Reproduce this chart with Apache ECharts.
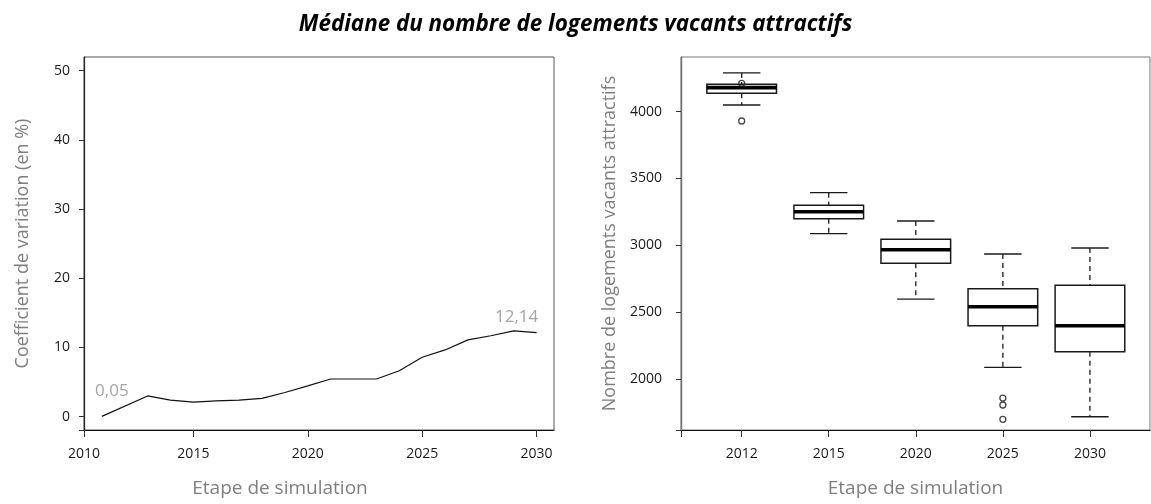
<!DOCTYPE html>
<html>
<head>
<meta charset="utf-8">
<script src="https://cdn.jsdelivr.net/npm/echarts@6/dist/echarts.min.js"></script>
<style>
  html, body { margin: 0; padding: 0; background: #ffffff; }
  #chart { width: 1151px; height: 504px; }
</style>
</head>
<body>
<div id="chart"></div>
<script>
// Coefficient of variation of the median, per simulated year
const cvYears = [2011, 2013, 2014, 2015, 2016, 2017, 2018, 2019, 2020, 2021, 2022, 2023, 2024, 2025, 2026, 2027, 2028, 2029, 2030];
const cvValues = [0.05, 3.0, 2.4, 2.1, 2.3, 2.4, 2.65, 3.5, 4.45, 5.45, 5.45, 5.45, 6.65, 8.6, 9.65, 11.1, 11.7, 12.4, 12.14];
const cvYTicks = [0, 10, 20, 30, 40, 50];
const cvXTicks = [2010, 2015, 2020, 2025, 2030];

// Distribution of attractive vacant dwellings per simulation step
const boxSteps = ['2012', '2015', '2020', '2025', '2030'];
const boxMin = [4050, 3087, 2598, 2087, 1717];
const boxQ1 = [4138, 3199, 2865, 2398, 2204];
const boxMedian = [4180, 3251, 2967, 2540, 2398];
const boxQ3 = [4205, 3299, 3045, 2675, 2701];
const boxMax = [4290, 3394, 3182, 2935, 2980];
const outlierStep = [0, 0, 3, 3, 3];
const outlierValue = [4212, 3930, 1857, 1805, 1698];
const boxYTicks = [2000, 2500, 3000, 3500, 4000];

const FONT = '"Open Sans", "DejaVu Sans", sans-serif';
const fmtFr = v => v.toFixed(2).replace('.', ',');

// left panel extents
const cvXMin = 2010.22, cvXMax = 2030.76, cvYMin = -1.92, cvYMax = 51.98;
// right panel extents
const bxXMin = 0.303, bxXMax = 5.69, bxYMin = 1618, bxYMax = 4409;

const lastIdx = cvValues.length - 1;
const cvData = cvYears.map((y, i) => {
  const item = { value: [y, cvValues[i]] };
  if (i === 0 || i === lastIdx) {
    item.label = {
      show: true,
      position: 'top',
      distance: 4,
      offset: i === 0 ? [10, -13] : [-20, -3],
      formatter: p => fmtFr(p.value[1]),
      color: '#a6a6a6',
      fontSize: 17,
      fontFamily: FONT
    };
  }
  return item;
});

const boxData = boxSteps.map((s, i) => [i + 1, boxMin[i], boxQ1[i], boxMedian[i], boxQ3[i], boxMax[i]]);
const outlierData = outlierStep.map((s, i) => [s + 1, outlierValue[i]]);

const tickLabel = { color: '#1a1a1a', fontSize: 14, fontFamily: FONT };
const nameStyleX = { color: '#7f7f7f', fontSize: 19, fontFamily: FONT };
const nameStyleY = { color: '#7f7f7f', fontSize: 18, fontFamily: FONT };

function renderBox(params, api) {
  const x = api.value(0);
  const pMin = api.coord([x, api.value(1)]);
  const pQ1 = api.coord([x, api.value(2)]);
  const pMed = api.coord([x, api.value(3)]);
  const pQ3 = api.coord([x, api.value(4)]);
  const pMax = api.coord([x, api.value(5)]);
  const bw = api.size([0.8, 0])[0];
  const cw = api.size([0.43, 0])[0];
  const cx = pMed[0];
  const stroke = '#1a1a1a';
  const dashed = { stroke: stroke, lineWidth: 1.3, lineDash: [5, 4] };
  const solid = { stroke: stroke, lineWidth: 1.3 };
  return {
    type: 'group',
    children: [
      { type: 'line', shape: { x1: cx, y1: pMax[1], x2: cx, y2: pQ3[1] }, style: dashed },
      { type: 'line', shape: { x1: cx, y1: pQ1[1], x2: cx, y2: pMin[1] }, style: dashed },
      { type: 'line', shape: { x1: cx - cw / 2, y1: pMax[1], x2: cx + cw / 2, y2: pMax[1] }, style: solid },
      { type: 'line', shape: { x1: cx - cw / 2, y1: pMin[1], x2: cx + cw / 2, y2: pMin[1] }, style: solid },
      { type: 'rect', shape: { x: cx - bw / 2, y: pQ3[1], width: bw, height: pQ1[1] - pQ3[1] },
        style: { fill: '#ffffff', stroke: stroke, lineWidth: 1.5 } },
      { type: 'line', shape: { x1: cx - bw / 2, y1: pMed[1], x2: cx + bw / 2, y2: pMed[1] },
        style: { stroke: '#000000', lineWidth: 3.6 } }
    ]
  };
}

const chart = echarts.init(document.getElementById('chart'), null, { renderer: 'canvas' });
chart.setOption({
  animation: false,
  backgroundColor: '#ffffff',
  title: {
    text: 'Médiane du nombre de logements vacants attractifs',
    left: 'center',
    top: 9,
    textStyle: { fontFamily: FONT, fontSize: 22.4, fontWeight: 'bold', fontStyle: 'italic', color: '#000000' }
  },
  grid: [
    { left: 84, right: 597, top: 57, bottom: 74, show: true, borderColor: '#555555', borderWidth: 1 },
    { left: 681, right: 1, top: 57, bottom: 74, show: true, borderColor: '#7a7a7a', borderWidth: 1 }
  ],
  xAxis: [
    {
      gridIndex: 0, type: 'value', min: cvXMin, max: cvXMax,
      splitLine: { show: false },
      axisLine: { show: true, onZero: false, lineStyle: { color: '#111111', width: 1.2 } },
      axisTick: { show: true, length: 7, customValues: [cvXMin].concat(cvXTicks.slice(1)), lineStyle: { color: '#333333' } },
      axisLabel: { customValues: [cvXMin].concat(cvXTicks.slice(1)), formatter: v => String(Math.round(v)), margin: 17, ...tickLabel },
      name: 'Etape de simulation', nameLocation: 'middle', nameGap: 49,
      nameTextStyle: { ...nameStyleX, padding: [0, 78, 0, 0] }
    },
    {
      gridIndex: 1, type: 'value', min: bxXMin, max: bxXMax,
      splitLine: { show: false },
      axisLine: { show: true, onZero: false, lineStyle: { color: '#111111', width: 1.2 } },
      axisTick: { show: true, length: 7, customValues: [bxXMin, 1, 2, 3, 4, 5], lineStyle: { color: '#333333' } },
      axisLabel: { customValues: [1, 2, 3, 4, 5], formatter: v => boxSteps[Math.round(v) - 1], margin: 17, ...tickLabel },
      name: 'Etape de simulation', nameLocation: 'middle', nameGap: 49,
      nameTextStyle: nameStyleX
    }
  ],
  yAxis: [
    {
      gridIndex: 0, type: 'value', min: cvYMin, max: cvYMax,
      splitLine: { show: false },
      axisLine: { show: true, onZero: false, lineStyle: { color: '#222222', width: 1.2 } },
      axisTick: { show: true, length: 5, customValues: [cvYMin].concat(cvYTicks), lineStyle: { color: '#333333' } },
      axisLabel: { customValues: cvYTicks, formatter: v => String(v), margin: 14, ...tickLabel },
      name: 'Coefficient de variation (en %)', nameLocation: 'middle', nameGap: 52,
      nameTextStyle: nameStyleY
    },
    {
      gridIndex: 1, type: 'value', min: bxYMin, max: bxYMax,
      splitLine: { show: false },
      axisLine: { show: true, onZero: false, lineStyle: { color: '#6e6e6e', width: 1.4 } },
      axisTick: { show: true, length: 5, customValues: [bxYMin].concat(boxYTicks), lineStyle: { color: '#333333' } },
      axisLabel: { customValues: boxYTicks, formatter: v => String(v), margin: 19, ...tickLabel },
      name: 'Nombre de logements vacants attractifs', nameLocation: 'middle', nameGap: 62,
      nameTextStyle: nameStyleY
    }
  ],
  series: [
    {
      type: 'line', xAxisIndex: 0, yAxisIndex: 0,
      data: cvData,
      showSymbol: true, symbol: 'circle', symbolSize: 0,
      lineStyle: { color: '#111111', width: 1.2 },
      itemStyle: { color: '#111111' },
      emphasis: { disabled: true }
    },
    {
      type: 'custom', xAxisIndex: 1, yAxisIndex: 1,
      renderItem: renderBox,
      encode: { x: 0, y: [1, 2, 3, 4, 5] },
      data: boxData,
      z: 3
    },
    {
      type: 'scatter', xAxisIndex: 1, yAxisIndex: 1,
      data: outlierData,
      symbol: 'circle', symbolSize: 6,
      itemStyle: { color: 'rgba(255,255,255,0)', borderColor: '#1a1a1a', borderWidth: 1.3 },
      z: 4
    }
  ]
});
</script>
</body>
</html>
